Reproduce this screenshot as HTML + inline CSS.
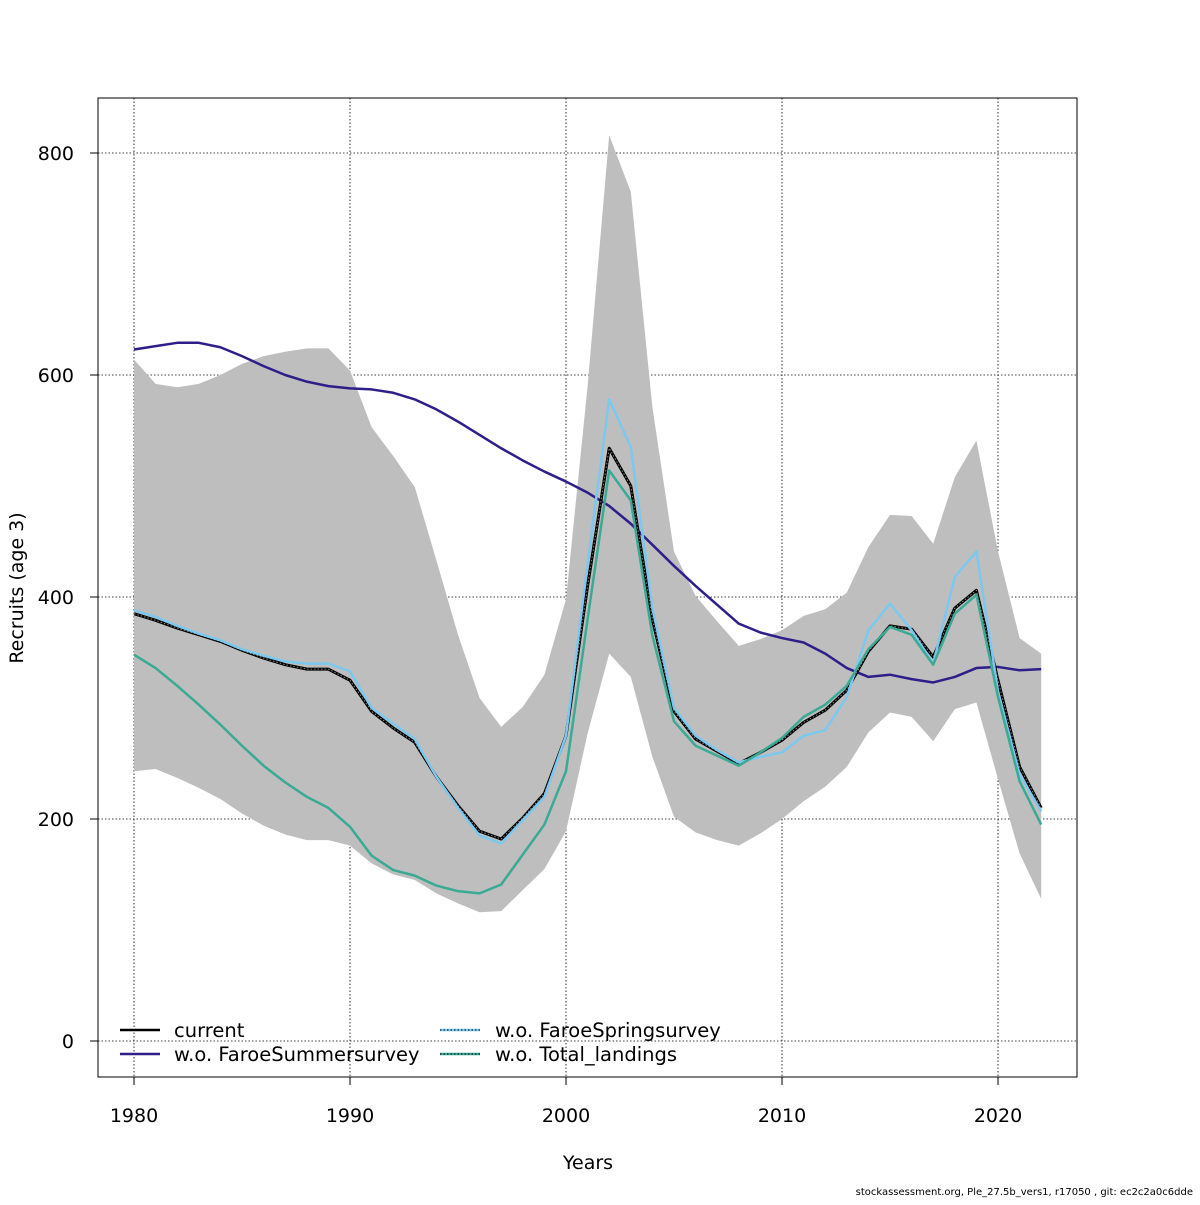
<!DOCTYPE html>
<html><head><meta charset="utf-8"><style>
body{margin:0;background:#fff;}
svg text{font-family:"DejaVu Sans","Liberation Sans",sans-serif;fill:#000;}
</style></head><body>
<svg id="chart" width="1200" height="1200" xmlns="http://www.w3.org/2000/svg">
<g id="grid"></g>
<g id="band"></g>
<g id="lines"></g>
<rect x="98" y="98" width="979" height="979" fill="none" stroke="#000" stroke-width="1"/>
<g id="axes"></g>
<text x="588" y="1169" font-size="19" text-anchor="middle">Years</text>
<text transform="translate(23,588) rotate(-90)" font-size="19" text-anchor="middle">Recruits (age 3)</text>
<g font-size="19.5">
<g><line x1="120" y1="1030" x2="160" y2="1030" stroke="#000" stroke-width="2.5"/><text x="174" y="1037">current</text></g>
<g><line x1="120" y1="1054" x2="160" y2="1054" stroke="#2d1e8a" stroke-width="2.5"/><text x="174" y="1061">w.o. FaroeSummersurvey</text></g>
<g><line x1="440" y1="1030" x2="480" y2="1030" stroke="#7cc8ee" stroke-width="2.5"/><line x1="440" y1="1030" x2="480" y2="1030" stroke="#000" stroke-width="1" stroke-dasharray="1.5,2"/><text x="495" y="1037">w.o. FaroeSpringsurvey</text></g>
<g><line x1="440" y1="1054" x2="480" y2="1054" stroke="#3aaa94" stroke-width="2.5"/><line x1="440" y1="1054" x2="480" y2="1054" stroke="#000" stroke-width="1" stroke-dasharray="1.5,2"/><text x="495" y="1061">w.o. Total_landings</text></g>
</g>
<text x="1193" y="1195" font-size="10" text-anchor="end">stockassessment.org, Ple_27.5b_vers1, r17050 , git: ec2c2a0c6dde</text>
</svg>
<script>
const years=[];for(let y=1980;y<=2022;y++)years.push(y);
const current=[385,379,372,366,360,352,345,339,335,335,325,297,282,269,238,212,189,182,201,223,275,410,534,500,380,297,272,261,250,260,271,287,298,316,351,374,371,346,390,406,325,247,210];
const summer=[623,626,629,629,625,617,608,600,594,590,588,587,584,578,569,558,546,534,523,513,504,494,482,466,447,428,410,393,376,368,363,359,349,336,328,330,326,323,328,336,337,334,335];
const spring=[388,382,374,367,361,353,347,342,340,340,333,300,286,272,238,210,185,178,199,220,275,430,578,535,390,300,275,262,251,256,260,275,280,310,370,394,370,340,418,441,315,240,207];
const landings=[348,336,320,303,285,266,248,233,220,210,193,167,154,149,140,135,133,141,168,195,243,380,514,487,365,288,266,257,248,260,273,292,303,320,353,373,366,339,385,402,310,234,195];
const upper=[614,592,589,592,600,610,617,621,624,624,604,553,527,499,433,366,309,283,301,330,398,590,816,765,571,441,401,378,356,362,370,383,389,404,445,474,473,448,508,541,441,363,349];
const lower=[243,245,237,228,218,205,194,186,181,181,176,160,150,145,133,124,116,117,136,155,189,277,349,328,256,202,188,181,176,187,200,216,229,247,278,296,292,270,299,305,236,169,128];
const xTicks=[1980,1990,2000,2010,2020];
const yTicks=[0,200,400,600,800];
const NS="http://www.w3.org/2000/svg";
const X=v=>134+(v-1980)*21.6;
const Y=v=>1041-v*1.11;
function mk(tag,attrs,parent){const e=document.createElementNS(NS,tag);for(const k in attrs)e.setAttribute(k,attrs[k]);parent.appendChild(e);return e;}
const grid=document.getElementById('grid'),axes=document.getElementById('axes'),band=document.getElementById('band'),lines=document.getElementById('lines');
xTicks.forEach(t=>{
 const g=mk('line',{x1:X(t),x2:X(t),y1:98,y2:1077,stroke:'#000','stroke-width':0.8,'stroke-dasharray':'1.5,2'},grid);
 
 
 const tk=mk('line',{x1:X(t),x2:X(t),y1:1077,y2:1085,stroke:'#000'},axes);
 
 
 const lb=mk('text',{x:X(t),y:1122,'font-size':19,'text-anchor':'middle'},axes);lb.textContent=t;
 
 
});
yTicks.forEach(t=>{
 const g=mk('line',{x1:98,x2:1077,y1:Y(t),y2:Y(t),stroke:'#000','stroke-width':0.8,'stroke-dasharray':'1.5,2'},grid);
 
 
 const tk=mk('line',{x1:90,x2:98,y1:Y(t),y2:Y(t),stroke:'#000'},axes);
 
 
 const lb=mk('text',{x:74,y:Y(t)+7,'font-size':19,'text-anchor':'end'},axes);lb.textContent=t;
 
 
});
let d=years.map((y,i)=>(i?'L':'M')+X(y)+','+Y(upper[i])).join('');
for(let i=years.length-1;i>=0;i--)d+='L'+X(years[i])+','+Y(lower[i]);
const bp=mk('path',{d:d+'Z',fill:'#bebebe',stroke:'none'},band);


function line(vals,color,w,name,dash){
 const p=mk('polyline',{points:years.map((y,i)=>X(y)+','+Y(vals[i])).join(' '),fill:'none',stroke:color,'stroke-width':w,'stroke-linejoin':'round'},lines);
 if(dash)p.setAttribute('stroke-dasharray',dash);
 
 
}
line(summer,'#2d1e8a',2.5,'line-summer');
line(current,'#000',3,'line-current');
line(current,'#888',1,'line-current-dots','1.5,2');
line(spring,'#7cc8ee',2.5,'line-spring');
line(landings,'#3aaa94',2.5,'line-landings');
</script>
</body></html>
